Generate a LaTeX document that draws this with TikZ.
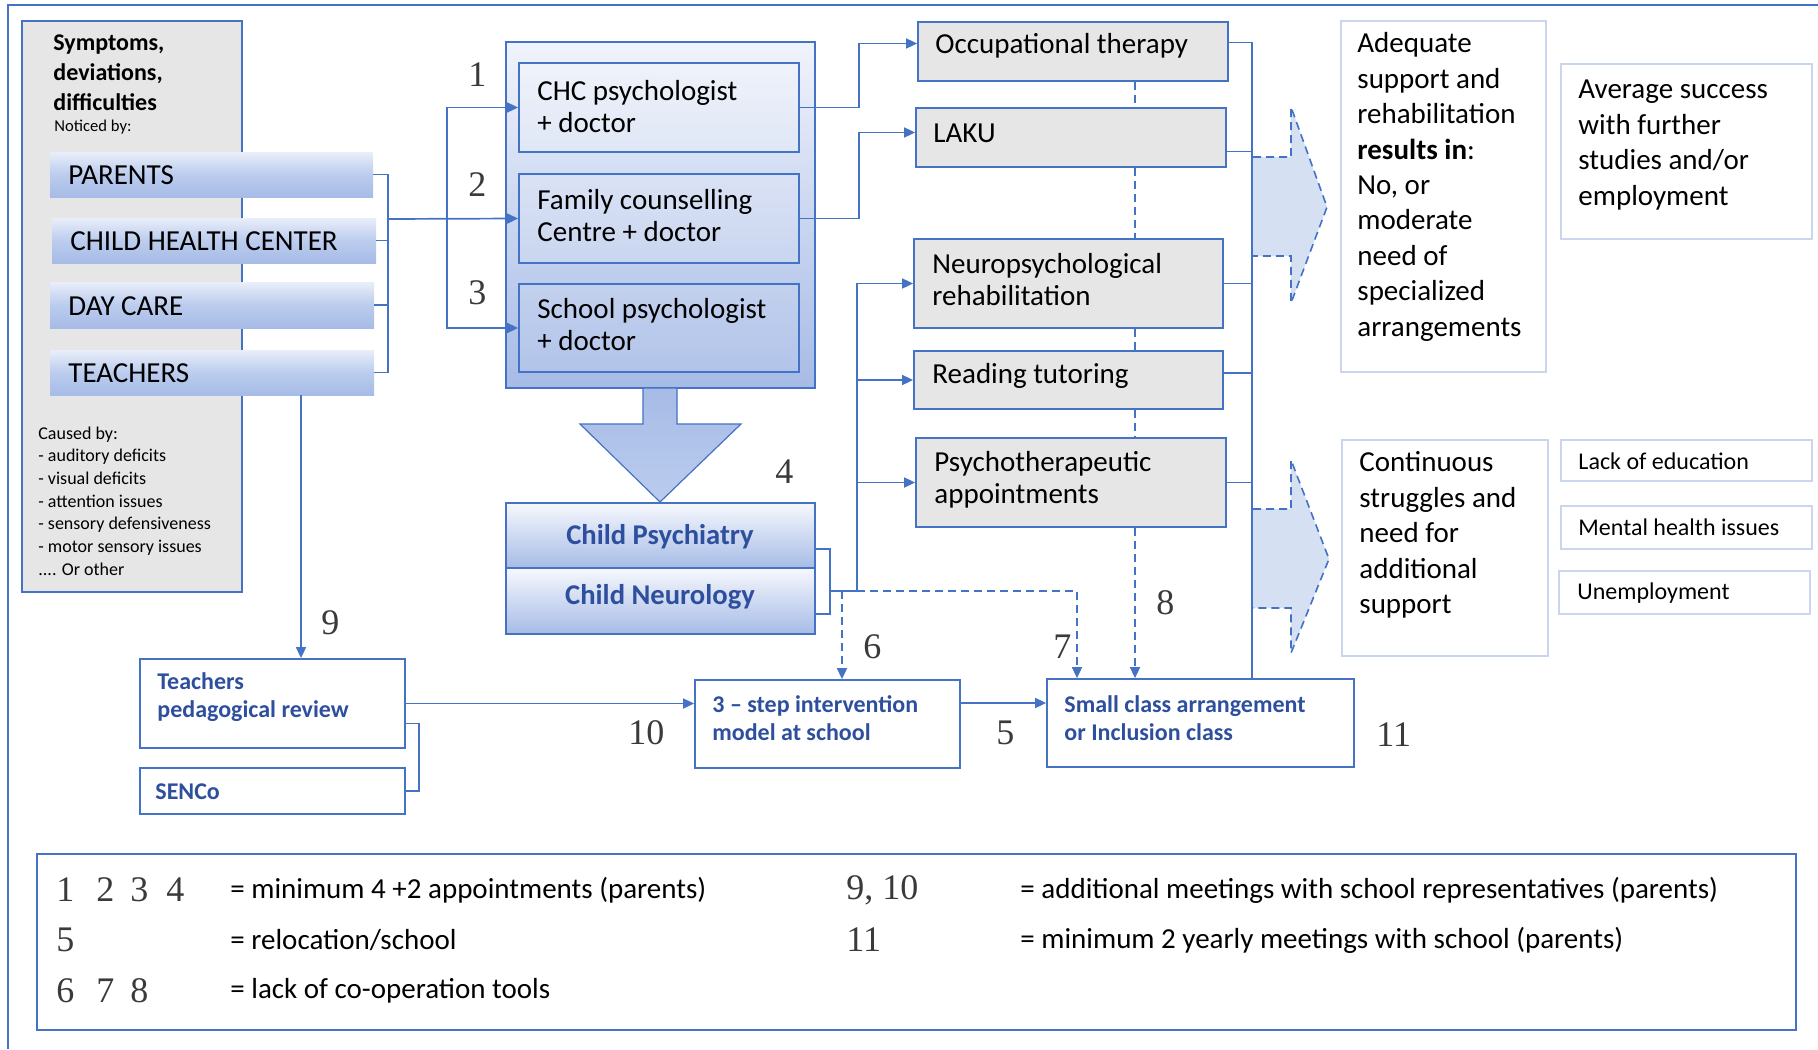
\documentclass[tikz,border=0pt]{standalone}
\usepackage{fontspec}
\setmainfont{Carlito}
\newfontfamily\numfont{Liberation Serif}
\usetikzlibrary{arrows.meta,calc,fit}
\definecolor{ob}{HTML}{4472C4}
\definecolor{tb}{HTML}{2E4F9E}
\definecolor{gfill}{HTML}{E6E6E6}
\definecolor{rbord}{HTML}{C9D6EE}
\definecolor{bigarr}{HTML}{D6E0F3}
\definecolor{numgray}{HTML}{3A3A3A}
\definecolor{barA}{HTML}{E9EEF9}
\definecolor{barB}{HTML}{BBCCEE}
\definecolor{barC}{HTML}{A6BBE6}
\begin{document}
\begin{tikzpicture}[x=0.5pt,y=-0.5pt,
  conn/.style={draw=ob,line width=0.85pt},
  arr/.style={conn,-{Triangle[length=5.5pt,width=5pt]}},
  dsh/.style={dash pattern=on 4pt off 2.5pt},
  box/.style={inner sep=0pt,draw=ob,line width=0.9pt},
  graybox/.style={box,fill=gfill},
  barbox/.style={inner sep=0pt,top color=barA,bottom color=barC,middle color=barB},
  rbox/.style={inner sep=0pt,draw=rbord,line width=0.7pt},
  txt/.style={inner sep=0pt,anchor=west,align=left,font=\fontsize{14.5}{16}\selectfont},
  rtxt/.style={inner sep=0pt,anchor=west,align=left,font=\fontsize{14.5}{17.7}\selectfont},
  btxt/.style={inner sep=0pt,anchor=west,align=left,text=tb,font=\bfseries\fontsize{12}{14}\selectfont},
  num/.style={inner sep=0pt,anchor=west,text=numgray,font=\numfont\fontsize{18}{18}\selectfont},
]
\useasboundingbox (0,0) rectangle (1818,1049);
% outer frame
\draw[ob,line width=0.9pt] (1818,5) -- (8,5) -- (8,1049);

% left gray box
\node[graybox,fit={(22,21) (242,592)}] (sym) {};
\node[inner sep=0pt,anchor=west,align=left,font=\bfseries\fontsize{12}{15}\selectfont] (tsym) at (53,73) {Symptoms,\\deviations,\\difficulties};
\node[inner sep=0pt,anchor=west,font=\fontsize{8.3}{10}\selectfont] (tnot) at (54,127) {Noticed by:};
\node[inner sep=0pt,anchor=west,align=left,font=\fontsize{9}{11.35}\selectfont] (tcause) at (38,501) {Caused by:\\- auditory deficits\\- visual deficits\\- attention issues\\- sensory defensiveness\\- motor sensory issues\\.... Or other};

% bars
\node[barbox,fit={(50,152) (373,197)}] (parents) {};
\node[barbox,fit={(52,218) (376,263)}] (chcbar) {};
\node[barbox,fit={(50,282) (374,328)}] (daycare) {};
\node[barbox,fit={(50,350) (374,395)}] (teachers) {};
\node[txt] (tparents) at (68,175) {PARENTS};
\node[txt] (tchcbar) at (70,241) {CHILD HEALTH CENTER};
\node[txt] (tdaycare) at (68,306) {DAY CARE};
\node[txt] (tteachers) at (68,373) {TEACHERS};

% container and inner boxes
\node[box,top color=barA!70!white,bottom color=barC,fit={(506,42) (815,388)}] (cont) {};
\path[draw=ob,line width=0.6pt,top color=barC,bottom color=barB] (643,388) -- (643,424) -- (580,424) -- (660,502) -- (741,424) -- (677,424) -- (677,388) -- cycle;
\node[box,fill=white,fill opacity=0.2,fit={(519,63) (799,152)}] (chcb) {};
\node[box,fill=white,fill opacity=0.15,fit={(519,174) (799,263)}] (fam) {};
\node[box,fill=white,fill opacity=0.1,fit={(519,284) (799,372)}] (sch) {};
\node[txt] (tchcb) at (537,107) {CHC psychologist\\+ doctor};
\node[txt] (tfam) at (537,216) {Family counselling\\Centre + doctor};
\node[txt] (tsch) at (537,325) {School psychologist\\+ doctor};

% child psychiatry / neurology
\node[box,top color=white!60!barA,middle color=barB!80!barA,bottom color=barC,fit={(506,503) (815,568)}] (cp) {};
\node[box,top color=white!60!barA,middle color=barB!80!barA,bottom color=barC,fit={(506,568) (815,634)}] (cn) {};
\node[inner sep=0pt,text=tb,font=\bfseries\fontsize{14.3}{16}\selectfont] (tcp) at (660,537) {Child Psychiatry};
\node[inner sep=0pt,text=tb,font=\bfseries\fontsize{14.3}{16}\selectfont] (tcn) at (660,597) {Child Neurology};

% gray therapy boxes
\node[graybox,fit={(918,22) (1228,81)}] (occ) {};
\node[graybox,fit={(916,108) (1226,167)}] (laku) {};
\node[graybox,fit={(914,239) (1223,328)}] (neuro) {};
\node[graybox,fit={(914,351) (1223,409)}] (read) {};
\node[graybox,fit={(916,438) (1226,527)}] (psy) {};
\node[txt] (tocc) at (935,46) {Occupational therapy};
\node[txt] (tlaku) at (933,133) {LAKU};
\node[txt] (tneuro) at (932,280) {Neuropsychological\\rehabilitation};
\node[txt] (tread) at (932,376) {Reading tutoring};
\node[txt] (tpsy) at (934,480) {Psychotherapeutic\\appointments};

% big dashed arrows
\path[fill=bigarr] (1253,157) -- (1291,157) -- (1291,107) -- (1327,207) -- (1291,303) -- (1291,256) -- (1253,256) -- cycle;
\draw[ob,dsh,line width=0.8pt] (1253,157) -- (1291,157) -- (1291,107) -- (1327,207) -- (1291,303) -- (1291,256) -- (1253,256);
\path[fill=bigarr] (1253,509) -- (1291,509) -- (1291,460) -- (1329,559) -- (1291,653) -- (1291,608) -- (1253,608) -- cycle;
\draw[ob,dsh,line width=0.8pt] (1253,509) -- (1291,509) -- (1291,460) -- (1329,559) -- (1291,653) -- (1291,608) -- (1253,608);

% right outcome boxes
\node[rbox,fit={(1341,21) (1546,372)}] (adeq) {};
\node[rbox,fit={(1561,64) (1812,239)}] (avg) {};
\node[rbox,fit={(1342,440) (1548,656)}] (contin) {};
\node[rbox,fit={(1561,440) (1812,481)}] (lack) {};
\node[rbox,fit={(1561,506) (1812,549)}] (mental) {};
\node[rbox,fit={(1559,571) (1810,614)}] (unemp) {};
\node[rtxt] (tadeq) at (1357,187) {Adequate\\support and\\rehabilitation\\\textbf{results in}:\\No, or\\moderate\\need of\\specialized\\arrangements};
\node[rtxt] (tavg) at (1578,145) {Average success\\with further\\studies and/or\\employment};
\node[rtxt] (tcontin) at (1359,535) {Continuous\\struggles and\\need for\\additional\\support};
\node[inner sep=0pt,anchor=west,font=\fontsize{12}{14}\selectfont] (tlack) at (1578,461) {Lack of education};
\node[inner sep=0pt,anchor=west,font=\fontsize{12}{14}\selectfont] (tmental) at (1578,527) {Mental health issues};
\node[inner sep=0pt,anchor=west,font=\fontsize{12}{14}\selectfont] (tunemp) at (1577,593) {Unemployment};

% school boxes
\node[box,fill=white,fit={(140,659) (405,748)}] (tpr) {};
\node[box,fill=white,fit={(140,768) (405,814)}] (senco) {};
\node[box,fill=white,fit={(695,680) (960,768)}] (stepm) {};
\node[box,fill=white,fit={(1047,679) (1354,767)}] (small) {};
\node[btxt] (ttpr) at (157,697) {Teachers\\pedagogical review};
\node[btxt] (tsenco) at (155,792) {SENCo};
\node[btxt] (tstepm) at (712,718) {3 -- step intervention\\model at school};
\node[btxt] (tsmall) at (1064,718) {Small class arrangement\\or Inclusion class};

% connectors: bars to bracket
\coordinate (bx) at (388,219);
\coordinate (jx) at (447,219);
\draw[conn] (parents.east) -- (parents.east -| bx) -- (teachers.east -| bx) -- (teachers.east);
\draw[conn] (chcbar.east) -- (chcbar.east -| bx);
\draw[conn] (daycare.east) -- (daycare.east -| bx);
\draw[arr] (bx) -- (fam.west);
\draw[arr] (jx) |- (chcb.west);
\draw[arr] (jx) |- (sch.west);

% to occupational therapy and LAKU
\draw[arr] (chcb.east) -- ++(59,0) |- ($(occ.west)+(0,-8)$);
\draw[arr] (fam.east) -- ++(59,0) |- ($(laku.west)+(0,-5)$);

% psychiatry bracket and bus
\coordinate (bt) at ($(cp.south east)+(0,-20)$);
\coordinate (bb) at ($(cn.south east)+(0,-21)$);
\draw[conn] (bt) -- ++(14,0) |- (bb);
\coordinate (bm) at (829,591);
\coordinate (nb) at (857,591);
\coordinate (d6) at (842,591);
\coordinate (x7) at (1077,591);
\draw[arr] (bm) -- (nb) |- (neuro.west);
\draw[arr] (nb) |- (read.west);
\draw[arr] (nb) |- (psy.west);
\draw[arr,dsh] (nb) -- (x7) -- (small.north -| x7);
\draw[arr,dsh] (d6) -- (stepm.north -| d6);

% dashed vertical 8
\coordinate (dx) at (1135,0);
\draw[conn,dsh] (occ.south -| dx) -- (laku.north -| dx);
\draw[conn,dsh] (laku.south -| dx) -- (neuro.north -| dx);
\draw[conn,dsh] (neuro.south -| dx) -- (read.north -| dx);
\draw[conn,dsh] (read.south -| dx) -- (psy.north -| dx);
\draw[arr,dsh] (psy.south -| dx) -- (small.north -| dx);

% right bus
\coordinate (rb) at (1252,0);
\coordinate (o1) at ($(occ.east)+(0,-9)$);
\coordinate (l1) at ($(laku.east)+(0,14)$);
\coordinate (r1) at ($(read.east)+(0,-7)$);
\draw[conn] (o1) -| (small.north -| rb);
\draw[conn] (l1) -- (l1 -| rb);
\draw[conn] (neuro.east) -- (neuro.east -| rb);
\draw[conn] (r1) -- (r1 -| rb);
\draw[conn] (psy.east) -- (psy.east -| rb);

% school connectors
\coordinate (ax) at (301,0);
\draw[arr] (teachers.south -| ax) -- (tpr.north -| ax);
\draw[arr] (tpr.east) -- (tpr.east -| stepm.west);
\draw[conn] ($(tpr.east)+(0,20)$) -- ++(13,0) |- (senco.east);
\draw[arr] ($(stepm.east)+(0,-21)$) -- ($(small.west)+(0,-20)$);

% number labels
\node[num] (n1) at (468,75) {1};
\node[num] (n2) at (468,185) {2};
\node[num] (n3) at (468,293) {3};
\node[num] (n4) at (775,472) {4};
\node[num] (n5) at (996,733) {5};
\node[num] (n6) at (863,647) {6};
\node[num] (n7) at (1053,647) {7};
\node[num] (n8) at (1156,603) {8};
\node[num] (n9) at (321,623) {9};
\node[num] (n10) at (628,733) {10};
\node[num] (n11) at (1376,735) {11};

% legend
\node[box,line width=1pt,fit={(37,854) (1796,1030)}] (legend) {};
\node[num] (l1234) at (56,890) {1\hspace{11pt}2\hspace{8pt}3\hspace{9pt}4};
\node[txt] (l1234t) at (230,890) {= minimum 4 +2 appointments (parents)};
\node[num] (l5) at (56,940) {5};
\node[txt] (l5t) at (230,940) {= relocation/school};
\node[num] (l678) at (56,991) {6\hspace{11pt}7\hspace{8pt}8};
\node[txt] (l678t) at (230,991) {= lack of co-operation tools};
\node[num] (l910) at (846,890) {9, 10};
\node[txt] (l910t) at (1020,890) {= additional meetings with school representatives (parents)};
\node[num] (l11) at (846,940) {11};
\node[txt] (l11t) at (1020,940) {= minimum 2 yearly meetings with school (parents)};
\end{tikzpicture}
\end{document}
